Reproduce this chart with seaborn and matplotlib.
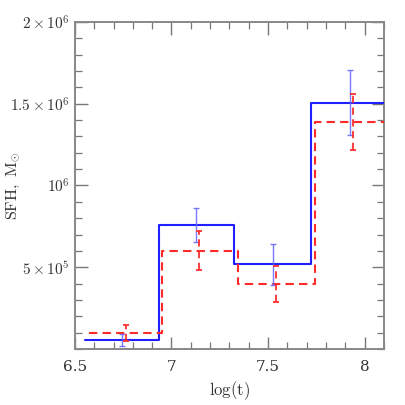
import numpy as np
import pandas as pd
import seaborn as sns
import matplotlib
matplotlib.use("Agg")
import matplotlib.pyplot as plt
from matplotlib.ticker import MultipleLocator, FixedLocator, FixedFormatter

##
# data
##
blue_edges = [6.553, 6.935, 7.324, 7.724, 8.13]
blue_sfh = [5.5e4, 7.57e5, 5.2e5, 1.506e6]
red_edges = [6.572, 6.953, 7.343, 7.742, 8.15]
red_sfh = [1.0e5, 6.02e5, 3.98e5, 1.389e6]

blue_err_x = [6.743, 7.128, 7.523, 7.923]
blue_err_y = [5.6e4, 7.58e5, 5.17e5, 1.508e6]
blue_err = [3.4e4, 1.04e5, 1.25e5, 1.97e5]

red_err_x = [6.762, 7.143, 7.541, 7.941]
red_err_y = [1.0e5, 6.02e5, 3.97e5, 1.39e6]
red_err = [4.9e4, 1.18e5, 1.11e5, 1.71e5]

ytick_vals = [5e5, 1e6, 1.5e6, 2e6]
ytick_labels = [r"$5\times10^5$", r"$10^6$", r"$1.5\times10^6$", r"$2\times10^6$"]
xtick_vals = [6.5, 7, 7.5, 8]
xtick_labels = ["6.5", "7", "7.5", "8"]

sns.set_style("ticks")
plt.rcParams['font.family'] = ['DejaVu Serif']
plt.rcParams['mathtext.fontset'] = 'cm'

# steps need the last value repeated at the closing edge
blue_df = pd.DataFrame({'logt': blue_edges, 'sfh': blue_sfh + blue_sfh[-1:]})
red_df = pd.DataFrame({'logt': red_edges, 'sfh': red_sfh + red_sfh[-1:]})

fig = plt.figure(figsize=(4.05, 4.05), dpi=100)
ax = fig.add_axes([0.185, 0.138, 0.763, 0.808])

sns.lineplot(data=blue_df, x='logt', y='sfh', drawstyle='steps-post', color='#2020ff',
             lw=1.5, ax=ax, zorder=3)
sns.lineplot(data=red_df, x='logt', y='sfh', drawstyle='steps-post', color='#ff2a2a',
             lw=1.5, ax=ax, zorder=3, dashes=False, linestyle=(0, (4, 2.5)))

ax.errorbar(blue_err_x, blue_err_y, yerr=blue_err, fmt='none', ecolor='#6a6aff',
            elinewidth=1.0, capsize=2.5, capthick=1.0, alpha=0.9, zorder=4)
eb = ax.errorbar(red_err_x, red_err_y, yerr=red_err, fmt='none', ecolor='#ff3030',
                 elinewidth=1.3, capsize=2.5, capthick=1.3, zorder=4)
eb[2][0].set_linestyle((0, (4, 2.5)))

ax.set_xlim(6.5, 8.1)
ax.set_ylim(0, 2e6)

ax.xaxis.set_major_locator(FixedLocator(xtick_vals))
ax.xaxis.set_major_formatter(FixedFormatter(xtick_labels))
ax.xaxis.set_minor_locator(MultipleLocator(0.1))
ax.yaxis.set_major_locator(FixedLocator(ytick_vals))
ax.yaxis.set_major_formatter(FixedFormatter(ytick_labels))
ax.yaxis.set_minor_locator(MultipleLocator(1e5))

ax.tick_params(which='both', direction='in', top=True, right=True, colors='#777777',
               labelcolor='#333333', labelsize=11)
ax.tick_params(which='major', length=9, width=1.0)
ax.tick_params(which='minor', length=5, width=0.9)
ax.tick_params(axis='x', pad=8)

for s in ax.spines.values():
    s.set_color('#888888')
    s.set_linewidth(1.4)

ax.set_xlabel(r"$\mathrm{log(t)}$", fontsize=12, color='#333333', labelpad=4)
ax.set_ylabel(r"$\mathrm{SFH,\ M_{\odot}}$", fontsize=11.5, color='#333333')
ax.yaxis.set_label_coords(-0.17, 0.5)

fig.savefig('out.png', dpi=100)
